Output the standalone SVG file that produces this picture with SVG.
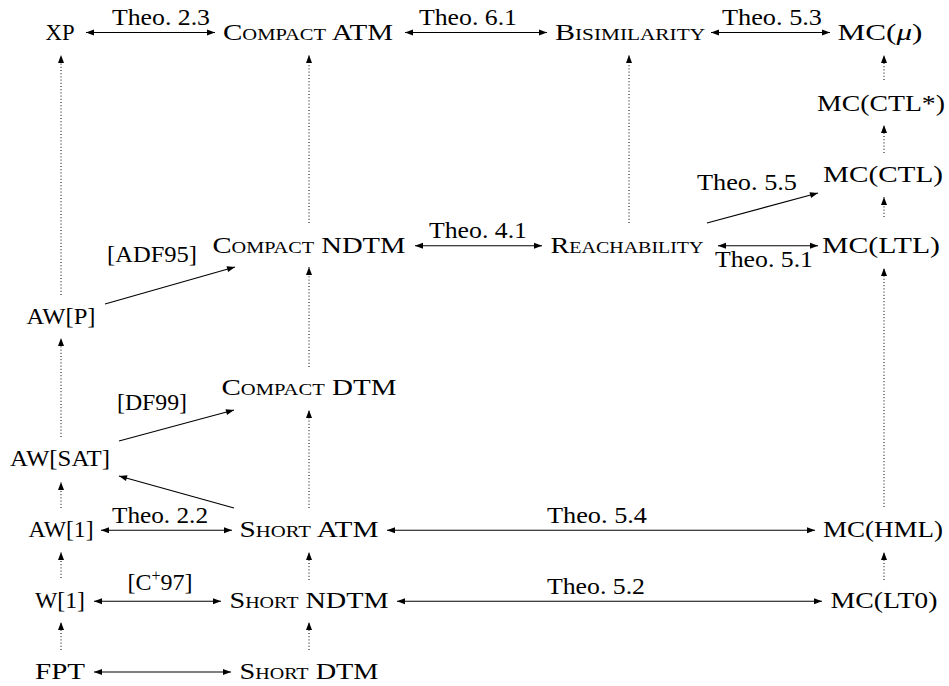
<svg xmlns="http://www.w3.org/2000/svg" width="949" height="686" viewBox="0 0 949 686" font-family="Liberation Serif, DejaVu Serif, serif">
<style>
text{font-family:'Liberation Serif','DejaVu Serif',serif;font-size:24px;fill:#000;text-anchor:middle}
.sc{font-variant:small-caps}
.it{font-style:italic}
.solid{stroke:#000;stroke-width:1.1;fill:none}
.dot{stroke:#000;stroke-width:1;fill:none;stroke-dasharray:1 2.2}
.two{marker-start:url(#ah);marker-end:url(#ah)}
.one{marker-end:url(#ah)}
</style>
<defs>
<marker id="ah" markerUnits="userSpaceOnUse" markerWidth="10" markerHeight="8" refX="8" refY="3" orient="auto-start-reverse" overflow="visible">
<path d="M0,0 L8,3 L0,6 Z" fill="#000"/>
</marker>
</defs>
<rect width="949" height="686" fill="#fff"/>
<g id="connectors">
<line class="solid two" x1="86" y1="32.5" x2="215" y2="32.5"/>
<line class="solid two" x1="405" y1="32.5" x2="547" y2="32.5"/>
<line class="solid two" x1="711" y1="32.5" x2="830" y2="32.5"/>
<line class="solid two" x1="415" y1="245.8" x2="542" y2="245.8"/>
<line class="solid two" x1="718" y1="245.8" x2="818" y2="245.8"/>
<line class="solid two" x1="101" y1="530.2" x2="232" y2="530.2"/>
<line class="solid two" x1="387" y1="530.2" x2="815" y2="530.2"/>
<line class="solid two" x1="94" y1="601.3" x2="221" y2="601.3"/>
<line class="solid two" x1="397" y1="601.3" x2="822" y2="601.3"/>
<line class="solid two" x1="94" y1="672" x2="231" y2="672"/>
<line class="solid one" x1="105" y1="304" x2="235" y2="267"/>
<line class="solid one" x1="119" y1="441" x2="234" y2="410"/>
<line class="solid one" x1="234" y1="508" x2="119" y2="476"/>
<line class="solid one" x1="707" y1="223" x2="818" y2="193"/>
<line class="dot one" x1="61" y1="295" x2="61" y2="55"/>
<line class="dot one" x1="61" y1="437" x2="61" y2="338"/>
<line class="dot one" x1="61" y1="508" x2="61" y2="482"/>
<line class="dot one" x1="61" y1="578" x2="61" y2="552"/>
<line class="dot one" x1="61" y1="650" x2="61" y2="622"/>
<line class="dot one" x1="309" y1="223" x2="309" y2="55"/>
<line class="dot one" x1="309" y1="367" x2="309" y2="267"/>
<line class="dot one" x1="309" y1="508" x2="309" y2="410"/>
<line class="dot one" x1="309" y1="580" x2="309" y2="552"/>
<line class="dot one" x1="309" y1="650" x2="309" y2="622"/>
<line class="dot one" x1="629" y1="223" x2="629" y2="55"/>
<line class="dot one" x1="884" y1="80" x2="884" y2="55"/>
<line class="dot one" x1="884" y1="153" x2="884" y2="125"/>
<line class="dot one" x1="884" y1="217" x2="884" y2="197"/>
<line class="dot one" x1="884" y1="507" x2="884" y2="268"/>
<line class="dot one" x1="884" y1="580" x2="884" y2="552"/>
</g>
<g id="labels">
<text x="161" y="25" textLength="98" lengthAdjust="spacingAndGlyphs">Theo. 2.3</text>
<text x="468" y="25" textLength="98" lengthAdjust="spacingAndGlyphs">Theo. 6.1</text>
<text x="772" y="25" textLength="100" lengthAdjust="spacingAndGlyphs">Theo. 5.3</text>
<text x="478" y="238.3" textLength="98" lengthAdjust="spacingAndGlyphs">Theo. 4.1</text>
<text x="764" y="267" textLength="98" lengthAdjust="spacingAndGlyphs">Theo. 5.1</text>
<text x="747" y="190" textLength="100" lengthAdjust="spacingAndGlyphs">Theo. 5.5</text>
<text x="160" y="522.7" textLength="96" lengthAdjust="spacingAndGlyphs">Theo. 2.2</text>
<text x="597" y="522.7" textLength="100" lengthAdjust="spacingAndGlyphs">Theo. 5.4</text>
<text x="596" y="593.8" textLength="98" lengthAdjust="spacingAndGlyphs">Theo. 5.2</text>
<text x="152" y="262" textLength="90" lengthAdjust="spacingAndGlyphs">[ADF95]</text>
<text x="152" y="410" textLength="70" lengthAdjust="spacingAndGlyphs">[DF99]</text>
<text x="160" y="590">[C<tspan font-size="16" dy="-9">+</tspan><tspan dy="9">97]</tspan></text>
</g>
<g id="n-xp"><text x="60" y="39.5" textLength="29" lengthAdjust="spacingAndGlyphs">XP</text></g>
<g id="n-compact-atm"><text x="308" y="39.5" textLength="170" lengthAdjust="spacingAndGlyphs"><tspan class="sc">Compact</tspan> ATM</text></g>
<g id="n-bisimilarity"><text x="630" y="39.5" textLength="150" lengthAdjust="spacingAndGlyphs" class="sc">Bisimilarity</text></g>
<g id="n-mc-mu"><text x="880" y="39.5" textLength="85" lengthAdjust="spacingAndGlyphs">MC(<tspan class="it">μ</tspan>)</text></g>
<g id="n-mc-ctlstar"><text x="881" y="110.6" textLength="128" lengthAdjust="spacingAndGlyphs">MC(CTL*)</text></g>
<g id="n-mc-ctl"><text x="883" y="181.7" textLength="120" lengthAdjust="spacingAndGlyphs">MC(CTL)</text></g>
<g id="n-compact-ndtm"><text x="309" y="252.8" textLength="193" lengthAdjust="spacingAndGlyphs"><tspan class="sc">Compact</tspan> NDTM</text></g>
<g id="n-reachability"><text x="627" y="252.8" textLength="153" lengthAdjust="spacingAndGlyphs" class="sc">Reachability</text></g>
<g id="n-mc-ltl"><text x="881" y="252.8" textLength="118" lengthAdjust="spacingAndGlyphs">MC(LTL)</text></g>
<g id="n-awp"><text x="61" y="323.9" textLength="69" lengthAdjust="spacingAndGlyphs">AW[P]</text></g>
<g id="n-compact-dtm"><text x="309" y="395" textLength="175" lengthAdjust="spacingAndGlyphs"><tspan class="sc">Compact</tspan> DTM</text></g>
<g id="n-awsat"><text x="60" y="466.1" textLength="100" lengthAdjust="spacingAndGlyphs">AW[SAT]</text></g>
<g id="n-aw1"><text x="61" y="537.2" textLength="65" lengthAdjust="spacingAndGlyphs">AW[1]</text></g>
<g id="n-short-atm"><text x="309" y="537.2" textLength="139" lengthAdjust="spacingAndGlyphs"><tspan class="sc">Short</tspan> ATM</text></g>
<g id="n-mc-hml"><text x="883" y="537.2" textLength="120" lengthAdjust="spacingAndGlyphs">MC(HML)</text></g>
<g id="n-w1"><text x="60" y="608.3" textLength="50" lengthAdjust="spacingAndGlyphs">W[1]</text></g>
<g id="n-short-ndtm"><text x="309" y="608.3" textLength="159" lengthAdjust="spacingAndGlyphs"><tspan class="sc">Short</tspan> NDTM</text></g>
<g id="n-mc-lt0"><text x="884" y="608.3" textLength="107" lengthAdjust="spacingAndGlyphs">MC(LT0)</text></g>
<g id="n-fpt"><text x="60" y="679.4" textLength="50" lengthAdjust="spacingAndGlyphs">FPT</text></g>
<g id="n-short-dtm"><text x="309" y="679.4" textLength="139" lengthAdjust="spacingAndGlyphs"><tspan class="sc">Short</tspan> DTM</text></g>
</svg>
